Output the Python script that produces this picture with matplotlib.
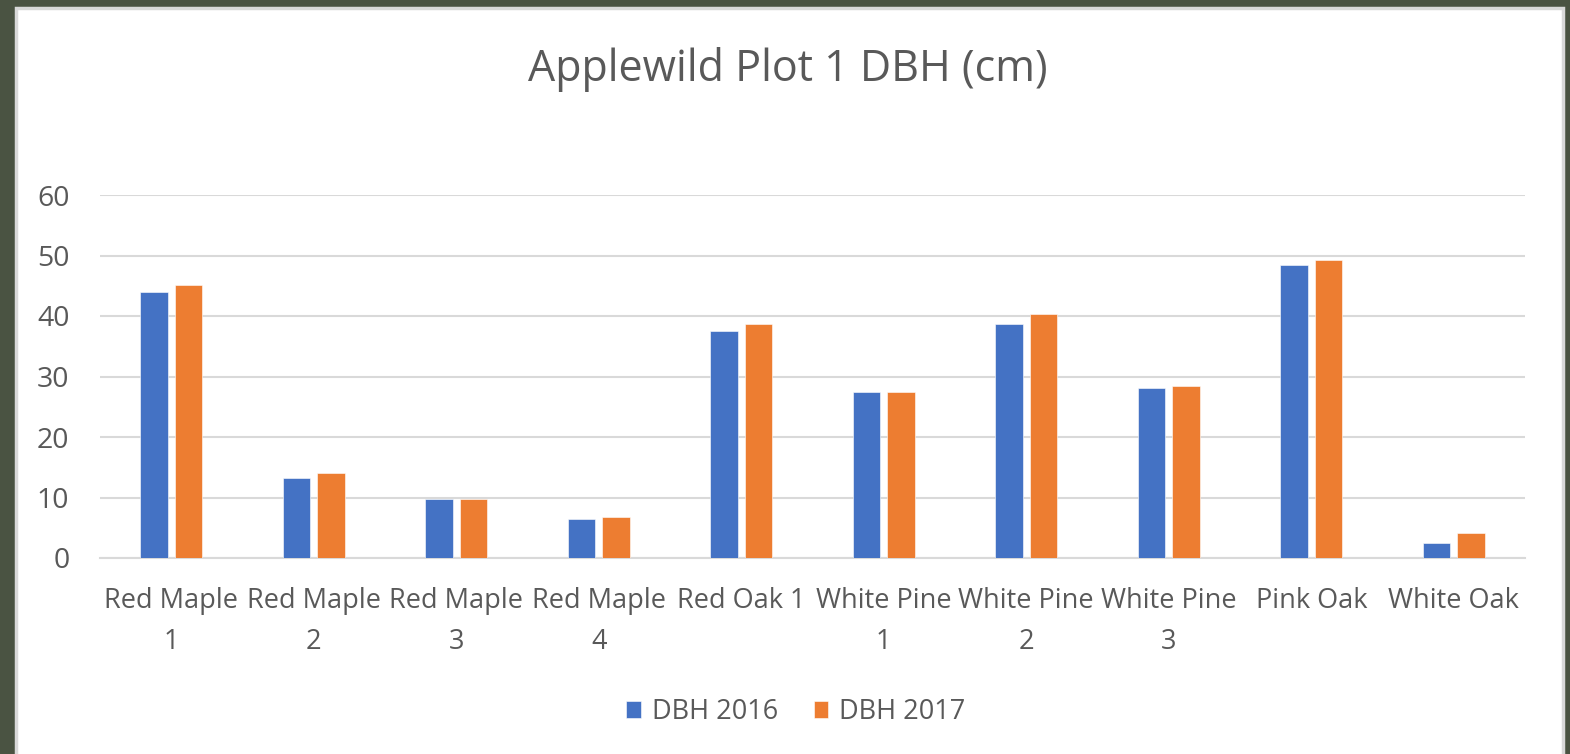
import numpy as np
import matplotlib.pyplot as plt
from matplotlib.patches import Rectangle

# Data
categories = ['Red Maple\n1', 'Red Maple\n2', 'Red Maple\n3', 'Red Maple\n4', 'Red Oak 1',
              'White Pine\n1', 'White Pine\n2', 'White Pine\n3', 'Pink Oak', 'White Oak']
dbh_2016 = [44.0, 13.2, 9.7, 6.4, 37.5, 27.5, 38.6, 28.1, 48.5, 2.5]
dbh_2017 = [45.2, 14.0, 9.7, 6.7, 38.6, 27.5, 40.3, 28.4, 49.3, 4.1]

blue = '#4472c4'
orange = '#ed7d31'
text_col = '#595959'
grid_col = '#d9d9d9'

plt.rcParams['font.family'] = ['Open Sans', 'DejaVu Sans']

fig = plt.figure(figsize=(15.7, 7.54), dpi=100)
fig.patch.set_facecolor('#4a5342')

# white chart panel with gray frame
panel = Rectangle((16 / 1570, -0.01), (1563 - 16) / 1570, 1 - 8 / 754 + 0.01,
                  transform=fig.transFigure, facecolor='white', edgecolor=grid_col,
                  linewidth=2.5, zorder=-10)
fig.patches.append(panel)

ax = fig.add_axes([100 / 1570, 1 - 558 / 754, 1425 / 1570, (558 - 195) / 754])
ax.set_facecolor('none')

x = np.arange(len(categories))
w = 0.194
off = 0.122
ax.bar(x - off, dbh_2016, w, color=blue, edgecolor='white', linewidth=0.4, label='DBH 2016', zorder=3)
ax.bar(x + off, dbh_2017, w, color=orange, edgecolor='white', linewidth=0.4, label='DBH 2017', zorder=3)

ax.set_xlim(-0.5, len(categories) - 0.5)
ax.set_ylim(0, 60)
ax.set_yticks(range(0, 61, 10))
ax.yaxis.grid(True, color=grid_col, linewidth=1.5)
ax.set_axisbelow(True)
for s in ['top', 'right', 'left']:
    ax.spines[s].set_visible(False)
ax.spines['bottom'].set_color(grid_col)
ax.spines['bottom'].set_linewidth(1.5)

ax.set_xticks(x)
ax.set_xticklabels(categories, linespacing=1.6)
ax.tick_params(axis='both', length=0, colors=text_col)
ax.tick_params(axis='x', pad=21, labelsize=19.5)
ax.tick_params(axis='y', pad=22, labelsize=20.5)
for lbl in ax.get_yticklabels():
    lbl.set_horizontalalignment('right')

fig.text(0.5016, 1 - 69 / 754, 'Applewild Plot 1 DBH (cm)', ha='center', va='center',
         fontsize=31, color=text_col)

ax.legend(loc='center', bbox_to_anchor=(0.507, 1 - 712 / 754), bbox_transform=fig.transFigure,
          ncol=2, frameon=False, fontsize=19.5, labelcolor=text_col,
          handlelength=0.55, handleheight=0.55, columnspacing=1.3, handletextpad=0.4)

fig.savefig('out.png', dpi=100, facecolor=fig.get_facecolor())
